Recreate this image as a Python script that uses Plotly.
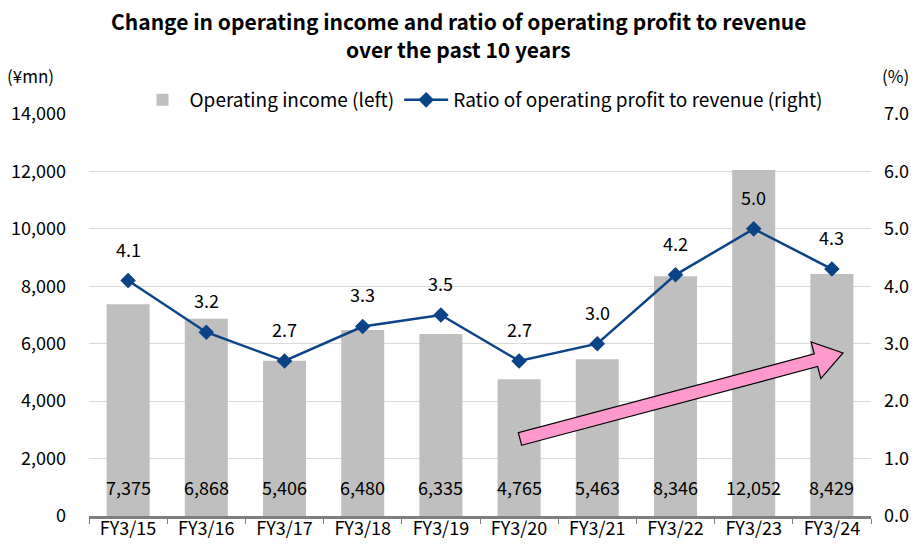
import plotly.graph_objects as go
import numpy as np

categories = ["FY3/15", "FY3/16", "FY3/17", "FY3/18", "FY3/19", "FY3/20", "FY3/21", "FY3/22", "FY3/23", "FY3/24"]
operating_income = [7375, 6868, 5406, 6480, 6335, 4765, 5463, 8346, 12052, 8429]
ratio = [4.1, 3.2, 2.7, 3.3, 3.5, 2.7, 3.0, 4.2, 5.0, 4.3]
left_ticks = [0, 2000, 4000, 6000, 8000, 10000, 12000, 14000]
right_ticks = [0, 1, 2, 3, 4, 5, 6, 7]

FONT = "Noto Sans CJK JP, Noto Sans, sans-serif"
W, H = 917, 546
OFF = 8  # page body offset
X0, X1, Y0, Y1 = 89, 871, 114, 516  # plot area in screenshot pixels
pw, ph = X1 - X0, Y1 - Y0
BLUE = "#0B4387"

def px(x):
    return (x - X0) / pw

def py(y):
    return (Y1 - y) / ph

fig = go.Figure()
fig.add_trace(go.Bar(
    x=categories, y=operating_income, name="Operating income (left)",
    marker=dict(color="#BFBFBF", line=dict(width=0)), yaxis="y",
))
fig.add_trace(go.Scatter(
    x=categories, y=ratio, name="Ratio of operating profit to revenue (right)",
    mode="lines+markers", yaxis="y2",
    line=dict(color=BLUE, width=2.5),
    marker=dict(symbol="diamond", size=12, color=BLUE),
))

annotations = []
for c, v in zip(categories, operating_income):
    annotations.append(dict(x=c, y=1000, xref="x", yref="y", text=f"{v:,}", showarrow=False,
                            font=dict(size=18, color="#000", family=FONT)))
for c, v in zip(categories, ratio):
    annotations.append(dict(x=c, y=v, xref="x", yref="y2", text=f"{v:.1f}", showarrow=False,
                            yshift=32, font=dict(size=18, color="#000", family=FONT)))
common = dict(xref="paper", yref="paper", showarrow=False, xanchor="center", yanchor="middle")
annotations.append(dict(x=px(30), y=py(75), text="(¥mn)",
                        font=dict(size=17, color="#000", family=FONT), **common))
annotations.append(dict(x=px(895), y=py(75), text="(%)",
                        font=dict(size=17, color="#000", family=FONT), **common))
annotations.append(dict(x=px(458), y=py(21), 
                        text="<b>Change in operating income and ratio of operating profit to revenue</b>",
                        font=dict(size=21, color="#000", family=FONT), **common))
annotations.append(dict(x=px(458), y=py(49),
                        text="<b>over the past 10 years</b>",
                        font=dict(size=21, color="#000", family=FONT), **common))

# decorative arrow (pixel geometry -> paper)
tail = np.array([520.0, 439.0]); tip = np.array([843.0, 353.0])
u = (tip - tail) / np.linalg.norm(tip - tail)
n = np.array([-u[1], u[0]])
sw, hw, hl = 6.5, 19.0, 28.0
base = tip - u * hl
pts = [tail + n * sw, base + n * sw, base + n * hw, tip, base - n * hw, base - n * sw, tail - n * sw]
path = "M " + " L ".join(f"{px(p[0]):.5f},{py(p[1]):.5f}" for p in pts) + " Z"

fig.update_layout(
    width=W, height=H,
    margin=dict(l=X0 - OFF, r=W - (X1 - OFF), t=Y0 - OFF, b=H - (Y1 - OFF), autoexpand=False),
    paper_bgcolor="white", plot_bgcolor="white",
    font=dict(family=FONT, size=18, color="#000"),
    bargap=0.45,
    showlegend=True,
    legend=dict(orientation="h", x=px(482), xanchor="center", yref="container",
                y=1 - (100 - OFF) / H, yanchor="middle", itemwidth=44,
                font=dict(size=19, family=FONT), bgcolor="rgba(0,0,0,0)"),
    xaxis=dict(type="category", range=[-0.5, 9.5], showgrid=False, showline=True,
               linecolor="#7F7F7F", linewidth=2.5,
               ticks="outside", ticklen=5, tickcolor="#7F7F7F", tickson="boundaries",
               ticklabelstandoff=-5,
               tickfont=dict(size=18, family=FONT), automargin=False),
    yaxis=dict(range=[0, 14000], tickvals=left_ticks, tickformat=",", showgrid=True,
               gridcolor="#D9D9D9", gridwidth=1, zeroline=False, showline=False,
               ticks="", ticklabelstandoff=22, tickfont=dict(size=18, family=FONT), automargin=False),
    yaxis2=dict(range=[0, 7], tickvals=right_ticks, tickformat=".1f", overlaying="y", side="right",
                showgrid=False, zeroline=False, showline=False, ticks="", ticklabelstandoff=12,
                tickfont=dict(size=18, family=FONT), automargin=False),
    annotations=annotations,
    shapes=[dict(type="path", path=path, xref="paper", yref="paper",
                 fillcolor="#FF99CC", line=dict(color="#000000", width=1.2), layer="above")],
)

fig.write_html("out.html")
